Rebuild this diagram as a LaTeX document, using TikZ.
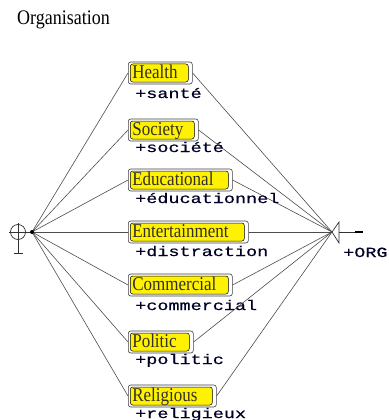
\documentclass[tikz,border=0pt]{standalone}
\usepackage{fontspec}
\setmainfont{Liberation Serif}
\newfontfamily\monofont[FakeBold=0.5]{Liberation Mono}
\newcommand{\tallcaps}[1]{\scalebox{1}[1.15]{#1}}
\newcommand{\widemono}[1]{\scalebox{1.32}[1]{#1}}
\begin{document}
\begin{tikzpicture}[x=1pt,y=-1pt,
  link/.style={draw=black!70, line width=0.6pt},
  catbox/.style={draw=black!75, line width=0.6pt, fill=white, rounded corners=2.5pt,
    inner xsep=4pt, inner ysep=3pt, text height=13pt, text depth=3pt, align=left,
    font=\fontsize{17}{20}\selectfont, text=black!85!olive, anchor=west,
    path picture={\fill[yellow, draw=black, line width=0.5pt]
      ([xshift=2pt,yshift=-2pt]path picture bounding box.north west) rectangle
      ([xshift=-4pt,yshift=2pt]path picture bounding box.south east);}},
  attr/.style={anchor=base west, inner sep=0pt, font=\monofont\fontsize{14}{16}\selectfont, text=black!85!blue},
  title/.style={anchor=base west, inner sep=0pt, font=\fontsize{18}{20}\selectfont}]
\useasboundingbox (0,0) rectangle (388,420);

\node[title] (ttl) at (17,25) {\tallcaps{Organisation}};

% hubs of the fan
\coordinate (hubL) at (32,232);
\coordinate (hubR) at (332,232);

% categories with their attribute names
\foreach [evaluate=\w as \tw using \w-8] \n/\cy/\w/\lab/\sub/\bl in {
  health/73/64/Health/+santé/98,
  society/130/70/Society/+société/152,
  educ/180/104/Educational/+éducationnel/203,
  entert/232/120/Entertainment/+distraction/256,
  commer/285/104/Commercial/+commercial/310,
  politic/342/65/Politic/+politic/364,
  relig/396/88/Religious/+religieux/418}{
  \draw[link] (hubL) -- (128,\cy);
  \node[catbox, text width=\tw pt] (\n) at (128,\cy) {\tallcaps{\lab}};
  \draw[link] (\n.east) -- (hubR);
  \node[attr] (\n-a) at (135,\bl) {\widemono{\sub}};
}

% left end: circle with cross
\node[draw=black!80, line width=0.7pt, circle, minimum size=15pt, inner sep=0pt] (orSym) at (18,232) {};
\coordinate (vTop) at (18,223);
\coordinate (vBot) at (18,253);
\coordinate (fL) at (14,253);
\coordinate (fR) at (23,253);
\coordinate (hW) at (9,232);
\draw[black!80, line width=0.7pt] (hW) -- (hubL);
\draw[black!80, line width=0.9pt] (vTop) -- (vBot);
\draw[black!80, line width=0.9pt] (fL) -- (fR);
\fill[black] (hubL) circle (2pt);

% right end: open triangle and tail
\coordinate (barT) at (339,222);
\coordinate (barB) at (339,243);
\coordinate (barM) at (339,232);
\coordinate (tailMid) at (355,232);
\coordinate (tailEnd) at (363,232);
\draw[black!80, line width=0.7pt] (hubR) -- (barT) -- (barB) -- cycle;
\draw[black!80, line width=0.6pt] (barM) -- (tailMid);
\draw[black, line width=1.4pt] (tailMid) -- (tailEnd);
\node[attr] (org) at (343,257) {\widemono{+ORG}};
\end{tikzpicture}
\end{document}
